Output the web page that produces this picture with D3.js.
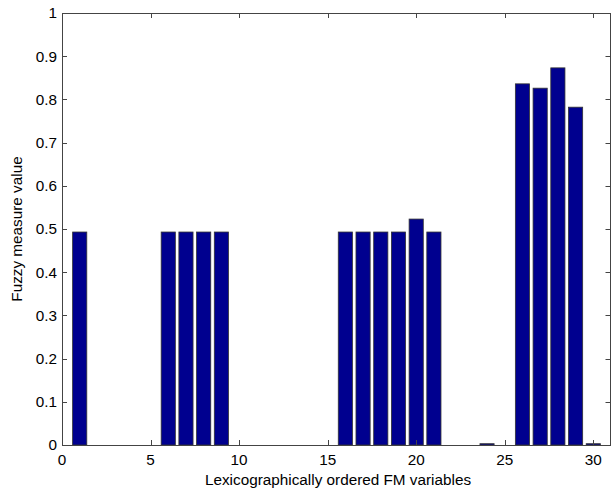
<!DOCTYPE html>
<html>
<head>
<meta charset="utf-8">
<script src="https://cdnjs.cloudflare.com/ajax/libs/d3/7.8.5/d3.min.js"></script>
<style>
  body { margin: 0; background: #fff; }
  text { font-family: "Liberation Sans", Arial, sans-serif; }
</style>
</head>
<body>
<div id="chart"></div>
<script>
// fuzzy measure values per lexicographic FM variable (1..30)
const variables = d3.range(1, 31);
const values = [
  0.493, 0, 0, 0, 0,
  0.493, 0.493, 0.493, 0.493, 0,
  0, 0, 0, 0, 0,
  0.493, 0.493, 0.493, 0.493, 0.523,
  0.493, 0, 0, 0.003, 0,
  0.836, 0.826, 0.873, 0.782, 0.003
];
const xTicks = [0, 5, 10, 15, 20, 25, 30];
const yTicks = d3.range(0, 11).map(d => d / 10);

const width = 611, height = 495;
const margin = {top: 13, right: 0, bottom: 50, left: 62};

const svg = d3.select('#chart').append('svg')
  .attr('width', width)
  .attr('height', height);

const x = d3.scaleLinear().domain([0, 31]).range([margin.left, width - margin.right]);
const y = d3.scaleLinear().domain([0, 1]).range([height - margin.bottom, margin.top]);

const data = variables.map((v, i) => ({v: v, val: values[i]}));
const bw = x(0.8) - x(0);

svg.append('g')
  .selectAll('rect')
  .data(data.filter(d => d.val > 0))
  .enter().append('rect')
  .attr('x', d => x(d.v) - bw / 2)
  .attr('y', d => y(d.val))
  .attr('width', bw)
  .attr('height', d => Math.max(1, y(0) - y(d.val)))
  .style('fill', '#00008f')
  .style('stroke', '#333')
  .style('stroke-width', 0.8);

const x0 = x.range()[0], x1 = x.range()[1] - 0.5;
const y0 = y(0), y1 = y(1);

// frame
svg.append('rect')
  .attr('x', x0 + 0.5).attr('y', y1 + 0.5)
  .attr('width', x1 - x0 - 0.5).attr('height', y0 - y1)
  .style('fill', 'none')
  .style('stroke', '#444')
  .style('stroke-width', 1);

const tl = 5;
const ticks = svg.append('g').style('stroke', '#444').style('stroke-width', 1);
xTicks.forEach(t => {
  const px = Math.round(x(t)) + 0.5;
  ticks.append('line').attr('x1', px).attr('x2', px).attr('y1', y0).attr('y2', y0 - tl);
  ticks.append('line').attr('x1', px).attr('x2', px).attr('y1', y1).attr('y2', y1 + tl);
});
yTicks.forEach(t => {
  const py = Math.round(y(t)) + 0.5;
  ticks.append('line').attr('x1', x0).attr('x2', x0 + tl).attr('y1', py).attr('y2', py);
  ticks.append('line').attr('x1', x1).attr('x2', x1 - tl).attr('y1', py).attr('y2', py);
});

svg.append('g').selectAll('text')
  .data(xTicks)
  .enter().append('text')
  .attr('x', d => x(d))
  .attr('y', y0 + 20)
  .attr('text-anchor', 'middle')
  .style('font-size', '15.3px')
  .text(d => d);

svg.append('g').selectAll('text')
  .data(yTicks)
  .enter().append('text')
  .attr('x', x0 - 5)
  .attr('y', d => y(d))
  .attr('dy', '.35em')
  .attr('text-anchor', 'end')
  .style('font-size', '15.3px')
  .text(d => d3.format('~g')(d));

svg.append('text')
  .attr('x', 338)
  .attr('y', y0 + 40)
  .attr('text-anchor', 'middle')
  .style('font-size', '15.3px')
  .text('Lexicographically ordered FM variables');

svg.append('text')
  .attr('transform', 'translate(22,' + ((y0 + y1) / 2) + ') rotate(-90)')
  .attr('text-anchor', 'middle')
  .style('font-size', '15.3px')
  .text('Fuzzy measure value');
</script>
</body>
</html>
